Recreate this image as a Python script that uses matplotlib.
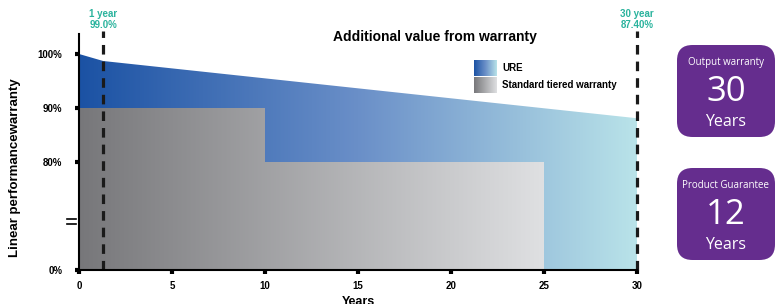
import numpy as np
import matplotlib.pyplot as plt
from matplotlib.colors import LinearSegmentedColormap
from matplotlib.patches import FancyBboxPatch

plt.rcParams['font.family'] = ['Liberation Sans', 'DejaVu Sans']

# URE degradation line (as drawn) and tiered standard warranty
ure_years = [0, 1.3, 30]
ure_values = [100, 98.7, 88.1]
std_years = [0, 10, 10, 25, 25]
std_values = [90, 90, 80, 80, 0]
marker_years = [1.3, 30]
marker_labels = ["1 year\n99.0%", "30 year\n87.40%"]
ytick_values = [0, 80, 90, 100]
ytick_labels = ["0%", "80%", "90%", "100%"]
xtick_values = [0, 5, 10, 15, 20, 25, 30]
boxes = [("Output warranty", "30", "Years"), ("Product Guarantee", "12", "Years")]

BREAK_BASE = 60  # 0% is drawn here, axis is broken between 0% and 80%


def yv(v):
    v = np.asarray(v, dtype=float)
    return np.where(v >= 80, v, BREAK_BASE + v / 4)


blue_cmap = LinearSegmentedColormap.from_list("ure", ["#1b52a4", "#6a8fc8", "#b9e3e9"])
gray_cmap = LinearSegmentedColormap.from_list("std", ["#77777a", "#dfe0e2"])
teal = "#2ab39d"
purple = "#652d8e"

fig = plt.figure(figsize=(7.77, 3.04), dpi=100)
ax = fig.add_axes([79 / 777, 34 / 304, 558 / 777, 236 / 304])
ymax = 103.7
ax.set_xlim(0, 30)
ax.set_ylim(BREAK_BASE, ymax)

grad = np.linspace(0, 1, 256).reshape(1, -1)

# URE area
ure_y = yv(ure_values)
verts = list(zip(ure_years, ure_y)) + [(ure_years[-1], BREAK_BASE), (ure_years[0], BREAK_BASE)]
poly = ax.fill([p[0] for p in verts], [p[1] for p in verts], facecolor="none", edgecolor="none")[0]
im = ax.imshow(grad, cmap=blue_cmap, extent=[0, 30, BREAK_BASE, ymax], aspect="auto", zorder=1)
im.set_clip_path(poly)

# standard tiered warranty area
std_y = yv(std_values)
sverts = list(zip(std_years, std_y)) + [(std_years[0], BREAK_BASE)]
spoly = ax.fill([p[0] for p in sverts], [p[1] for p in sverts], facecolor="none", edgecolor="none")[0]
im2 = ax.imshow(grad, cmap=gray_cmap, extent=[0, 25, BREAK_BASE, ymax], aspect="auto", zorder=2)
im2.set_clip_path(spoly)

# dashed markers
for x, lab in zip(marker_years, marker_labels):
    ax.plot([x, x], [BREAK_BASE, ymax + 0.5], color="#1a1a1a", lw=2.3, ls=(0, (3, 2.2)),
            clip_on=False, zorder=5)
    ax.annotate(lab, xy=(x, 1.0), xycoords=("data", "axes fraction"), xytext=(0, 3),
                textcoords="offset points", ha="center", va="bottom", color=teal,
                fontsize=7, fontweight="bold", linespacing=1.1, annotation_clip=False)

ax.set_xticks(xtick_values)
ax.set_xticklabels([str(x) for x in xtick_values], fontsize=7, fontweight="bold")
ax.set_yticks(yv(ytick_values))
ax.set_yticklabels(ytick_labels, fontsize=7, fontweight="bold")
ax.tick_params(axis="both", length=3, width=3, color="black", direction="out")
ax.tick_params(axis="y", pad=9)
ax.tick_params(axis="x", pad=5)
for s in ["top", "right"]:
    ax.spines[s].set_visible(False)
for s in ["left", "bottom"]:
    ax.spines[s].set_linewidth(1.5)
    ax.spines[s].set_zorder(6)

# axis break marks
brk = yv([36])[0]
for dy in (-0.45, 0.45):
    ax.plot([-0.022, -0.006], [brk + dy, brk + dy], color="black", lw=1.2,
            transform=ax.get_yaxis_transform(), clip_on=False)

fig.text(15 / 777, 1 - 168 / 304, "Linear performancewarranty", rotation=90, ha="center",
         va="center", fontsize=9.5, fontweight="bold")
fig.text(358 / 777, -1 / 304, "Years", ha="center", va="baseline", fontsize=9, fontweight="bold")
fig.text(435 / 777, 1 - 37 / 304, "Additional value from warranty", ha="center", va="center",
         fontsize=10, fontweight="bold")

# legend
for i, (cmap, lab) in enumerate([(blue_cmap, "URE"), (gray_cmap, "Standard tiered warranty")]):
    y0 = 0.822 - i * 0.072
    lax = ax.inset_axes([0.708, y0, 0.041, 0.068])
    lax.imshow(grad, cmap=cmap, aspect="auto")
    lax.axis("off")
    ax.text(0.758, y0 + 0.034, lab, transform=ax.transAxes, fontsize=7, fontweight="bold",
            va="center", ha="left")

# purple boxes
for (top, bottom), (head, num, unit) in zip([(45, 137), (168, 260)], boxes):
    h = (bottom - top) / 304
    box = FancyBboxPatch((677 / 777, 1 - bottom / 304), 98 / 777, h,
                         boxstyle="round,pad=0,rounding_size=0.02", transform=fig.transFigure,
                         facecolor=purple, edgecolor="none", mutation_aspect=777 / 304)
    fig.patches.append(box)
    cx = 726 / 777
    fig.text(cx, 1 - (top + 17) / 304, head, ha="center", va="center", color="white",
             fontsize=7, family="Open Sans")
    fig.text(cx, 1 - (top + 47) / 304, num, ha="center", va="center", color="white",
             fontsize=25, family="Open Sans")
    fig.text(cx, 1 - (top + 77) / 304, unit, ha="center", va="center", color="white",
             fontsize=11.5, family="Open Sans")

fig.savefig("out.png", dpi=100)
